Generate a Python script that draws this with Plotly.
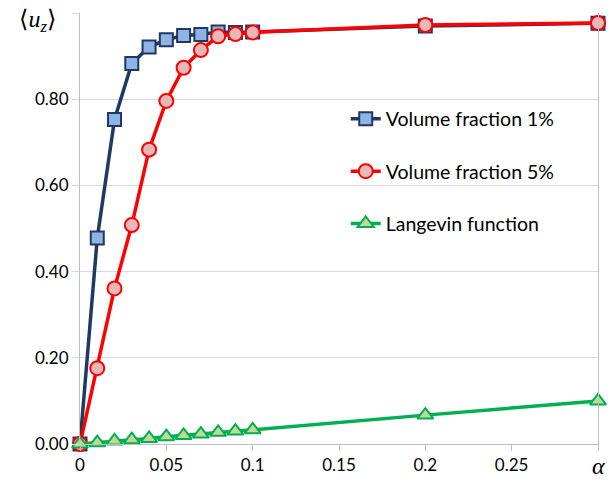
import plotly.graph_objects as go

alpha = [0, 0.01, 0.02, 0.03, 0.04, 0.05, 0.06, 0.07, 0.08, 0.09, 0.1, 0.2, 0.3]
vf1 = [0, 0.478, 0.753, 0.883, 0.921, 0.938, 0.948, 0.950, 0.956, 0.955, 0.956, 0.970, 0.976]
vf5 = [0, 0.176, 0.361, 0.508, 0.683, 0.796, 0.873, 0.914, 0.946, 0.951, 0.955, 0.972, 0.977]
langevin = [0, 0.003, 0.007, 0.010, 0.013, 0.017, 0.020, 0.023, 0.027, 0.030, 0.033, 0.067, 0.100]

names = ["Volume fraction 1%", "Volume fraction 5%", "Langevin function"]

xtickvals = [0, 0.05, 0.1, 0.15, 0.2, 0.25]
xticktext = ["0", "0.05", "0.1", "0.15", "0.2", "0.25"]
ytickvals = [0, 0.2, 0.4, 0.6, 0.8]
yticktext = ["0.00", "0.20", "0.40", "0.60", "0.80"]
x_end = [0.3]
y_end = [1.0]
x_title = "<i>α</i>"
y_title = "⟨<i>u<sub>z</sub></i>⟩"

SERIF = "Liberation Serif, DejaVu Serif, serif"
GRID = "#D9D9D9"
AXIS = "#BFBFBF"

fig = go.Figure()
fig.add_trace(go.Scatter(
    x=alpha, y=vf1, name=names[0], mode="lines+markers", legendgroup="a",
    line=dict(color="#1F3864", width=3.5),
    marker=dict(symbol="square", size=13, color="#8DB4E2",
                line=dict(color="#1F3864", width=2)),
    cliponaxis=False,
))
fig.add_trace(go.Scatter(
    x=alpha, y=vf5, name=names[1], mode="lines+markers", legendgroup="b",
    line=dict(color="#FF0000", width=3.5),
    marker=dict(symbol="circle", size=14, color="#E6B9B8",
                line=dict(color="#FF0000", width=2)),
    cliponaxis=False,
))
fig.add_trace(go.Scatter(
    x=alpha, y=langevin, name=names[2], mode="lines+markers", legendgroup="c",
    line=dict(color="#00B050", width=3.5),
    marker=dict(symbol="triangle-up", size=14, color="#C4D79B",
                line=dict(color="#00B050", width=2)),
    cliponaxis=False,
))

fig.add_annotation(text=y_title, xref="paper", yref="paper", x=-0.082, y=0.981,
                   xanchor="center", yanchor="middle", showarrow=False,
                   font=dict(family=SERIF, size=24, color="#000000"))
fig.add_annotation(text=x_title, xref="paper", yref="paper", x=1.0, y=-0.0835,
                   xanchor="center", yanchor="bottom", showarrow=False, borderpad=0,
                   font=dict(family=SERIF, size=24, color="#000000"))

fig.update_layout(
    width=613, height=484,
    margin=dict(l=80, r=15, t=13, b=40, autoexpand=False),
    paper_bgcolor="white", plot_bgcolor="white",
    font=dict(family="Lato, Carlito, Calibri, sans-serif", size=17, color="#000000"),
    showlegend=True,
    legend=dict(
        x=0.513, y=0.799, xanchor="left", yanchor="top",
        bgcolor="rgba(255,255,255,0)",
        tracegroupgap=24,
        font=dict(size=19.5),
    ),
    xaxis=dict(
        range=[0, 0.3], tickvals=xtickvals, ticktext=xticktext,
        showgrid=False, zeroline=False, automargin=False,
        showline=True, linecolor=AXIS, linewidth=1,
        ticks="outside", ticklen=6, tickcolor=AXIS,
        tickfont=dict(size=17),
        minor=dict(tickvals=x_end, ticks="outside", ticklen=6, tickcolor=AXIS,
                   showgrid=False),
    ),
    yaxis=dict(
        range=[0, 1.0], tickvals=ytickvals, ticktext=yticktext,
        showgrid=True, gridcolor=GRID, gridwidth=1,
        zeroline=False, automargin=False,
        showline=True, linecolor=AXIS, linewidth=1, mirror=True,
        ticks="outside", ticklen=7, tickcolor=GRID,
        tickfont=dict(size=17),
        minor=dict(tickvals=y_end, ticks="outside", ticklen=7, tickcolor=GRID,
                   showgrid=True, gridcolor=GRID, gridwidth=1),
    ),
)

fig.write_html("out.html")
